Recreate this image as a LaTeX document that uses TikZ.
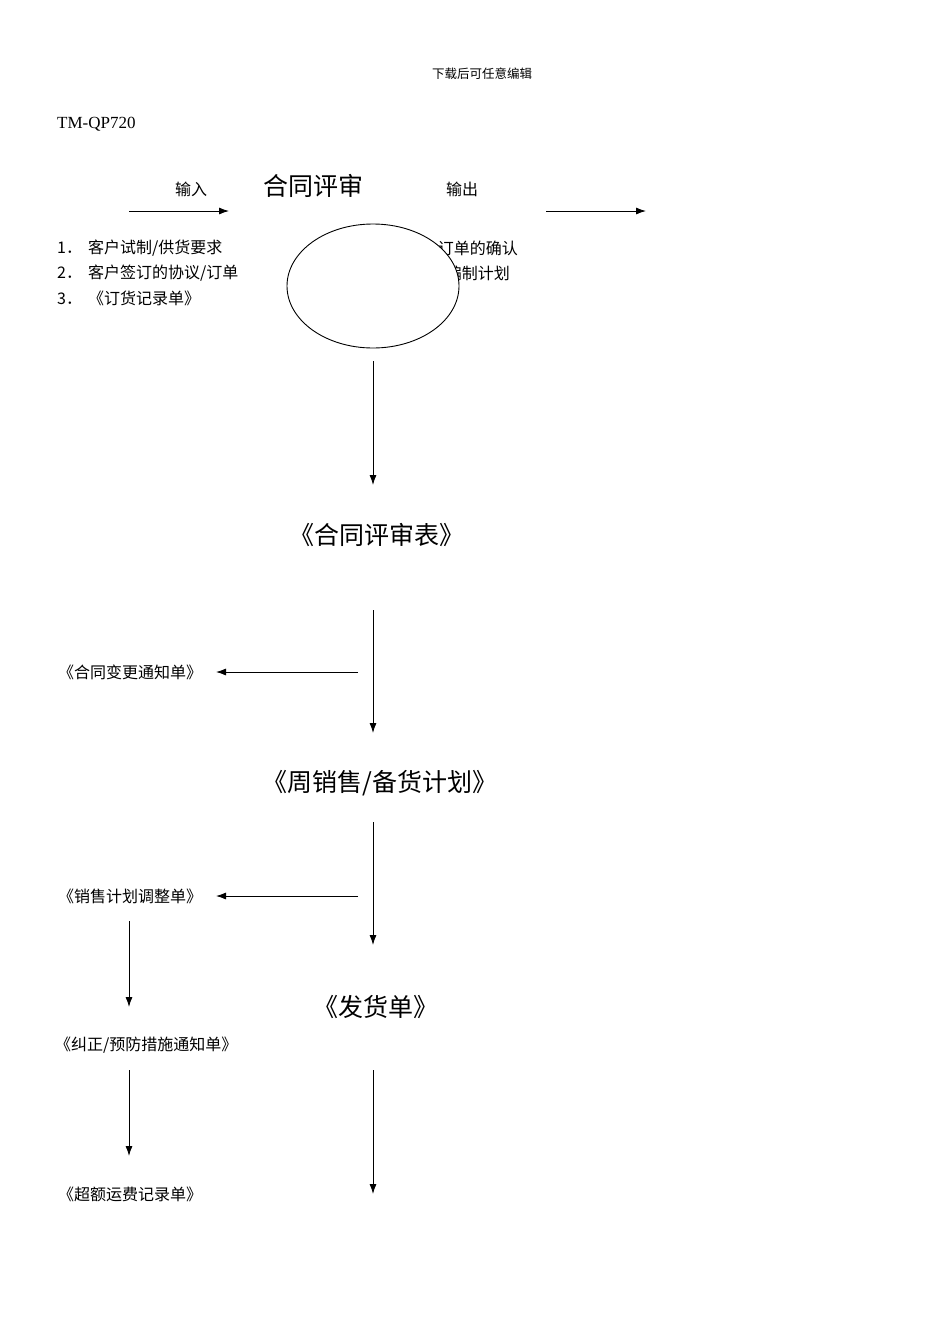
\documentclass[tikz,border=0pt]{standalone}
\usepackage{fontspec}
\usetikzlibrary{arrows.meta}
\setmainfont{Liberation Serif}
\newfontfamily\cjk{Noto Sans CJK SC}
\begin{document}
\begin{tikzpicture}[x=1pt,y=-1pt,
  sm/.style={font=\cjk\fontsize{16}{18}\selectfont,inner sep=0pt},
  big/.style={font=\cjk\fontsize{25}{28}\selectfont,inner sep=0pt},
  arr/.style={-{Latex[length=10pt,width=7pt]},line width=0.9pt}]
\useasboundingbox[fill=white] (0,0) rectangle (950,1344);
\node[font=\cjk\fontsize{12.5}{14}\selectfont] (hdr) at (482,74) {下载后可任意编辑};
\node[anchor=west,inner sep=0pt,font=\fontsize{17}{19}\selectfont] (tm) at (57,124) {TM-QP720};
\node[sm] (in) at (191,189) {输入};
\node[big] (title) at (313,186) {合同评审};
\node[sm] (out) at (462,189) {输出};
\coordinate (a1) at (129,211); \coordinate (a2) at (229,211);
\coordinate (b1) at (546,211); \coordinate (b2) at (646,211);
\draw[arr] (a1) -- (a2); \draw[arr] (b1) -- (b2);
\node[sm,anchor=west] (l1) at (57,248) {1．\hspace{6pt}客户试制/供货要求};
\node[sm,anchor=west] (l2) at (57,273) {2．\hspace{6pt}客户签订的协议/订单};
\node[sm,anchor=west] (l3) at (57,298) {3．\hspace{6pt}《订货记录单》};
\node[sm,anchor=east] (r1) at (518,248) {订单的确认};
\node[sm,anchor=east] (r2) at (510,273) {编制计划};
\draw[fill=white,line width=0.9pt] (373,286) ellipse [x radius=86,y radius=62];
\coordinate (e) at (373,361); \coordinate (e2) at (373,485);
\draw[arr] (e) -- (e2);
\node[big] (n1) at (377,535) {《合同评审表》};
\coordinate (c1) at (373,610); \coordinate (c2) at (373,733);
\draw[arr] (c1) -- (c2);
\coordinate (d1) at (358,672); \coordinate (d2) at (216,672);
\node[sm,anchor=west] (chg) at (58,672) {《合同变更通知单》};
\draw[arr] (d1) -- (d2);
\node[big] (n2) at (380,783) {《周销售/备货计划》};
\coordinate (f1) at (373,822); \coordinate (f2) at (373,945);
\draw[arr] (f1) -- (f2);
\coordinate (g1) at (358,896); \coordinate (g2) at (216,896);
\node[sm,anchor=west] (adj) at (58,896) {《销售计划调整单》};
\draw[arr] (g1) -- (g2);
\coordinate (h1) at (129,921); \coordinate (h2) at (129,1007);
\draw[arr] (h1) -- (h2);
\node[big] (n3) at (376,1007) {《发货单》};
\node[sm,anchor=west] (cor) at (55,1045) {《纠正/预防措施通知单》};
\coordinate (i1) at (129,1070); \coordinate (i2) at (129,1156);
\draw[arr] (i1) -- (i2);
\coordinate (j1) at (373,1070); \coordinate (j2) at (373,1194);
\draw[arr] (j1) -- (j2);
\node[sm,anchor=west] (fee) at (58,1194) {《超额运费记录单》};
\end{tikzpicture}
\end{document}
